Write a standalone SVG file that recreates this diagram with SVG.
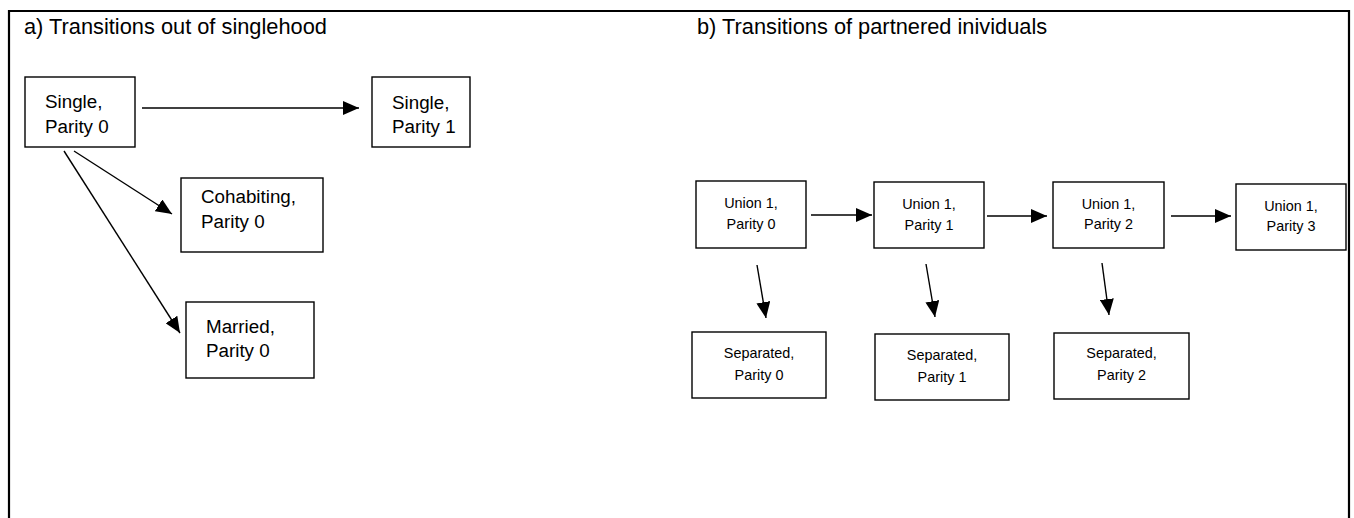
<svg xmlns="http://www.w3.org/2000/svg" width="1354" height="518" viewBox="0 0 1354 518">
<style>
.frame{fill:none;stroke:#000;stroke-width:2.2}
.box{fill:#fff;stroke:#000;stroke-width:1.4}
.t{font-family:"Liberation Sans",Arial,sans-serif;fill:#000}
.title{font-size:21.8px}
.lb{font-size:18.8px}
.rb{font-size:14.4px;text-anchor:middle}
.conn{fill:none;stroke:#000;stroke-width:1.4}
</style>
<defs>
<marker id="ah" viewBox="0 0 16 14" refX="16" refY="7" markerWidth="16" markerHeight="14" markerUnits="userSpaceOnUse" orient="auto">
<path d="M0,0 L16,7 L0,14 Z" fill="#000"/>
</marker>
</defs>
<rect width="1354" height="518" fill="#fff"/>
<path class="frame" d="M9,530 L9,11 L1349,11 L1349,530"/>
<text class="t title" x="24" y="34">a) Transitions out of singlehood</text>
<text class="t title" x="697" y="34">b) Transitions of partnered inividuals</text>

<g id="connectors">
<line class="conn" x1="142" y1="108" x2="359" y2="108" marker-end="url(#ah)"/>
<line class="conn" x1="74" y1="151" x2="172" y2="214" marker-end="url(#ah)"/>
<line class="conn" x1="64" y1="151" x2="180" y2="333" marker-end="url(#ah)"/>
<line class="conn" x1="811" y1="215" x2="872" y2="215" marker-end="url(#ah)"/>
<line class="conn" x1="987" y1="216" x2="1047" y2="216" marker-end="url(#ah)"/>
<line class="conn" x1="1171" y1="216" x2="1231" y2="216" marker-end="url(#ah)"/>
<line class="conn" x1="757" y1="265" x2="766" y2="318" marker-end="url(#ah)"/>
<line class="conn" x1="926" y1="264" x2="935" y2="317" marker-end="url(#ah)"/>
<line class="conn" x1="1102" y1="263" x2="1109" y2="315" marker-end="url(#ah)"/>
</g>

<g id="single0">
<rect class="box" x="25" y="77" width="110" height="70"/>
<text class="t lb" x="45" y="108">Single,</text>
<text class="t lb" x="45" y="133">Parity 0</text>
</g>
<g id="single1">
<rect class="box" x="372" y="77" width="98" height="70"/>
<text class="t lb" x="392" y="109">Single,</text>
<text class="t lb" x="392" y="133">Parity 1</text>
</g>
<g id="cohab0">
<rect class="box" x="181" y="178" width="142" height="74"/>
<text class="t lb" x="201" y="203">Cohabiting,</text>
<text class="t lb" x="201" y="228">Parity 0</text>
</g>
<g id="married0">
<rect class="box" x="186" y="302" width="128" height="76"/>
<text class="t lb" x="206" y="333">Married,</text>
<text class="t lb" x="206" y="357">Parity 0</text>
</g>

<g id="union1p0">
<rect class="box" x="696" y="181" width="110" height="67"/>
<text class="t rb" x="751" y="208">Union 1,</text>
<text class="t rb" x="751" y="229">Parity 0</text>
</g>
<g id="union1p1">
<rect class="box" x="874" y="182" width="110" height="66"/>
<text class="t rb" x="929" y="209">Union 1,</text>
<text class="t rb" x="929" y="230">Parity 1</text>
</g>
<g id="union1p2">
<rect class="box" x="1053" y="182" width="111" height="66"/>
<text class="t rb" x="1108.5" y="209">Union 1,</text>
<text class="t rb" x="1108.5" y="229">Parity 2</text>
</g>
<g id="union1p3">
<rect class="box" x="1236" y="184" width="110" height="66"/>
<text class="t rb" x="1291" y="211">Union 1,</text>
<text class="t rb" x="1291" y="231">Parity 3</text>
</g>
<g id="sep0">
<rect class="box" x="692" y="332" width="134" height="66"/>
<text class="t rb" x="759" y="358">Separated,</text>
<text class="t rb" x="759" y="380">Parity 0</text>
</g>
<g id="sep1">
<rect class="box" x="875" y="334" width="134" height="66"/>
<text class="t rb" x="942" y="360">Separated,</text>
<text class="t rb" x="942" y="382">Parity 1</text>
</g>
<g id="sep2">
<rect class="box" x="1054" y="333" width="135" height="66"/>
<text class="t rb" x="1121.5" y="358">Separated,</text>
<text class="t rb" x="1121.5" y="380">Parity 2</text>
</g>
</svg>
